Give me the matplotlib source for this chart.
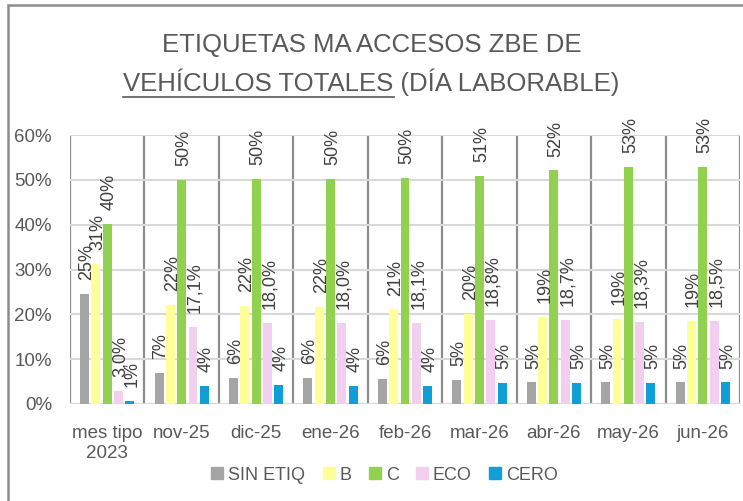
import matplotlib
matplotlib.use("Agg")
import matplotlib.pyplot as plt
import numpy as np
from matplotlib.patches import Rectangle
from matplotlib.lines import Line2D

categorias = ["mes tipo\n2023", "nov-25", "dic-25", "ene-26", "feb-26",
              "mar-26", "abr-26", "may-26", "jun-26"]
series = ["SIN ETIQ", "B", "C", "ECO", "CERO"]
sin_etiq = [24.6, 7.0, 5.9, 5.9, 5.6, 5.3, 4.8, 4.8, 4.8]
b = [31.2, 22.0, 21.8, 21.6, 21.1, 20.1, 19.4, 18.9, 18.6]
c = [40.2, 50.0, 50.2, 50.2, 50.4, 50.9, 52.1, 52.8, 52.8]
eco = [3.0, 17.1, 18.0, 18.0, 18.1, 18.8, 18.7, 18.3, 18.5]
cero = [0.6, 4.0, 4.2, 4.1, 4.1, 4.6, 4.6, 4.6, 4.8]
colores = ["#A5A5A5", "#FFFF99", "#92D050", "#F2CEEF", "#0F9ED5"]

plt.rcParams["font.family"] = ["Liberation Sans", "DejaVu Sans"]
narrow = ["Liberation Sans Narrow", "Liberation Sans", "DejaVu Sans"]

fig = plt.figure(figsize=(7.43, 5.01), dpi=100)
ax = fig.add_axes([70 / 743, 97 / 501, 670 / 743, 269 / 501])

valores = [sin_etiq, b, c, eco, cero]
x = np.arange(len(categorias))
paso = 0.152
ancho = 0.12
for i, (nombre, vals, col) in enumerate(zip(series, valores, colores)):
    pos = x + (i - 2) * paso
    ax.bar(pos, vals, width=ancho, color=col, label=nombre, zorder=3)
    for xp, v in zip(pos, vals):
        if nombre == "ECO":
            txt = f"{v:.1f}%".replace(".", ",")
        else:
            txt = f"{round(v):.0f}%"
        ax.annotate(txt, (xp, v), xytext=(1.5, 10), textcoords="offset points",
                    rotation=90, ha="center", va="bottom",
                    fontsize=13, color="#404040", zorder=4)

ax.set_xlim(-0.5, len(categorias) - 0.5)
ax.set_ylim(0, 60)
ax.set_yticks(range(0, 61, 10))
ax.set_yticklabels([f"{t}%" for t in range(0, 61, 10)])
ax.set_xticks(x)
ax.set_xticklabels(categorias)
ax.tick_params(axis="both", length=0, labelsize=13.5, colors="#595959")
ax.tick_params(axis="y", pad=13)
ax.tick_params(axis="x", pad=15)
for lbl in ax.get_xticklabels():
    lbl.set_linespacing(1.25)
ax.yaxis.grid(True, color="#D9D9D9", linewidth=1.5, zorder=0)
for s in ax.spines.values():
    s.set_visible(False)
for xs in np.arange(-0.5, len(categorias), 1.0):
    ax.axvline(xs, color="#8C8C8C", linewidth=1.6, zorder=1)
ax.axhline(0, color="#D9D9D9", linewidth=1.5, zorder=2)

# marco del gráfico
fig.patches.append(Rectangle((8 / 743, -0.1), 1.2, (496 / 501) + 0.1,
                             transform=fig.transFigure, fill=False,
                             edgecolor="#8C8C8C", linewidth=1.8))

# título
fig.text(0.5, 1 - 45 / 501, "ETIQUETAS MA ACCESOS ZBE DE", ha="center",
         va="center", fontsize=18.5, color="#595959", family=narrow)
linea2 = "VEHÍCULOS TOTALES (DÍA LABORABLE)"
t2 = fig.text(0.5, 1 - 82 / 501, linea2, ha="center", va="center",
              fontsize=18.5, color="#595959", family=narrow)
fig.canvas.draw()
r = fig.canvas.get_renderer()
bb = t2.get_window_extent(r)
tmp = fig.text(0, 0, "VEHÍCULOS TOTALES", fontsize=18.5, family=narrow)
w = tmp.get_window_extent(r).width
tmp.remove()
yline = (bb.y0 - 1) / fig.bbox.height
fig.add_artist(Line2D([bb.x0 / fig.bbox.width, (bb.x0 + w) / fig.bbox.width],
                      [yline, yline], color="#595959", linewidth=1.2))

handles = [Line2D([], [], marker="s", linestyle="none", markersize=8,
                  color=col) for col in colores]
fig.legend(handles, series, loc="center", bbox_to_anchor=(384 / 743, 1 - 475 / 501),
           ncol=5, frameon=False, handletextpad=0.2, handlelength=0.8,
           columnspacing=0.9, labelcolor="#595959",
           prop={"family": narrow, "size": 13})

fig.savefig("out.png", dpi=100)
